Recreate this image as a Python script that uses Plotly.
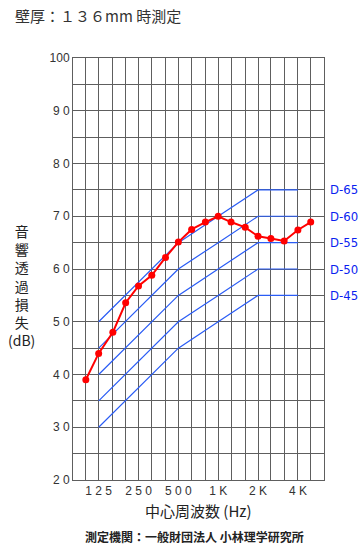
import plotly.graph_objects as go
import math

# 1/3 octave band centre frequencies (Hz)
bands = [100, 125, 160, 200, 250, 315, 400, 500, 630, 800, 1000,
         1250, 1600, 2000, 2500, 3150, 4000, 5000]
# measured sound transmission loss (dB)
tl = [39.0, 44.0, 48.0, 53.6, 56.8, 58.8, 62.2, 65.1, 67.5, 68.9, 70.0,
      68.9, 67.9, 66.2, 65.8, 65.3, 67.4, 68.9]

# D-curve reference frequencies and values
d_freq = [125, 500, 1000, 2000, 4000]
d_names = ["D-65", "D-60", "D-55", "D-50", "D-45"]
d65 = [50, 65, 70, 75, 75]
d60 = [45, 60, 65, 70, 70]
d55 = [40, 55, 60, 65, 65]
d50 = [35, 50, 55, 60, 60]
d45 = [30, 45, 50, 55, 55]
d_curves = [d65, d60, d55, d50, d45]

# tick labels
x_tick_labels = {125: "1 2 5", 250: "2 5 0", 500: "5 0 0", 1000: "1 K", 2000: "2 K", 4000: "4 K"}
y_ticks = [20, 25, 30, 35, 40, 45, 50, 55, 60, 65, 70, 75, 80, 85, 90, 95, 100]
y_labels = {20: "2 0", 30: "3 0", 40: "4 0", 50: "5 0", 60: "6 0", 70: "7 0", 80: "8 0", 90: "9 0", 100: "100"}

y_title_chars = ["音", "響", "透", "過", "損", "失", "(dB)"]

BLUE = "#2a5cf5"
GRID = "#5e5e5e"

W, H = 360, 550
ML, MR, MT, MB = 73, 36, 58, 70
plot_h = H - MT - MB
plot_w = W - ML - MR

fig = go.Figure()
for name, vals in zip(d_names, d_curves):
    fig.add_trace(go.Scatter(x=d_freq, y=vals, mode="lines",
                             line=dict(color=BLUE, width=1.2), showlegend=False, hoverinfo="skip"))
    fig.add_annotation(xref="paper", yref="y", x=(329 - ML) / plot_w, y=vals[-1], text=name,
                       showarrow=False, xanchor="left", yanchor="middle", borderpad=0,
                       font=dict(family="Liberation Sans Narrow, DejaVu Sans Condensed, Arial, sans-serif",
                                 size=13, color="#0a1ef0"))

fig.add_trace(go.Scatter(x=bands, y=tl, mode="lines+markers",
                         line=dict(color="#ff0000", width=2),
                         marker=dict(color="#ff0000", size=7), showlegend=False))

fig.update_xaxes(type="log", range=[math.log10(80), math.log10(6300)],
                 tickvals=bands, ticktext=[x_tick_labels.get(b, "") for b in bands],
                 showgrid=True, gridcolor=GRID, gridwidth=1,
                 showline=True, linecolor=GRID, linewidth=1, mirror=True,
                 ticks="", zeroline=False,
                 tickfont=dict(family="Arial, Liberation Sans, sans-serif", size=12, color="#333333"))
fig.update_yaxes(range=[20, 100], tickvals=y_ticks,
                 ticktext=[y_labels.get(v, "") for v in y_ticks],
                 showgrid=True, gridcolor=GRID, gridwidth=1,
                 showline=True, linecolor=GRID, linewidth=1, mirror=True,
                 ticks="", zeroline=False,
                 tickfont=dict(family="Arial, Liberation Sans, sans-serif", size=12, color="#333333"))

cjk = "Noto Sans CJK JP, sans-serif"
# vertical y-axis title, one character per row
fig.add_annotation(xref="paper", yref="paper",
                   x=(21 - ML) / plot_w, y=(H - MB - 285) / plot_h,
                   text="<br>".join(y_title_chars), showarrow=False,
                   xanchor="center", yanchor="middle", align="center",
                   font=dict(family=cjk, size=14, color="#222222"))
fig.add_annotation(xref="paper", yref="paper", x=(198 - ML) / plot_w, y=-(510 - (H - MB)) / plot_h,
                   text="中心周波数 (Hz)", showarrow=False, xanchor="center", yanchor="middle",
                   font=dict(family=cjk, size=15, color="#222222"))
fig.add_annotation(xref="paper", yref="paper", x=(194 - ML) / plot_w, y=-(536 - (H - MB)) / plot_h,
                   text="<b>測定機関：一般財団法人 小林理学研究所</b>", showarrow=False,
                   xanchor="center", yanchor="middle",
                   font=dict(family=cjk, size=12, color="#222222"))

fig.update_layout(
    width=W, height=H,
    margin=dict(l=ML, r=MR, t=MT, b=MB),
    paper_bgcolor="white", plot_bgcolor="white",
    title=dict(text="壁厚：１３６mm 時測定", xref="container", yref="container",
               x=15 / W, xanchor="left", y=1 - 17 / H, yanchor="middle",
               font=dict(family=cjk, size=15, color="#333333")),
    showlegend=False,
)

fig.write_html("out.html", config={"displayModeBar": False},
               post_script="document.body.style.margin='0';document.body.style.overflow='hidden';")
